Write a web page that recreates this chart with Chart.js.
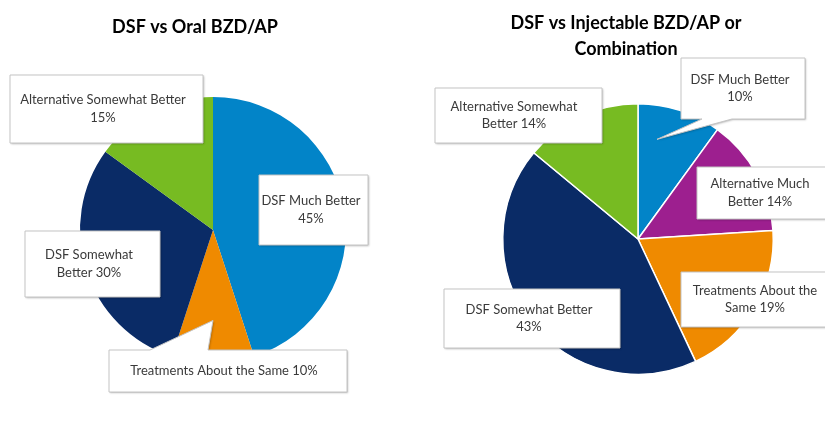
<!DOCTYPE html>
<html>
<head>
<meta charset="utf-8">
<script src="https://cdn.jsdelivr.net/npm/chart.js@4/dist/chart.umd.min.js"></script>
<style>
  html, body { margin: 0; padding: 0; background: #ffffff; }
  #wrap { position: relative; width: 825px; height: 435px; overflow: hidden; background: #fff; }
  canvas { position: absolute; top: 0; }
</style>
</head>
<body>
<div id="wrap">
  <canvas id="oral" width="412" height="435" style="left:0"></canvas>
  <canvas id="inj" width="413" height="435" style="left:412px"></canvas>
</div>
<script>
// ---- data ----
const oralTitle = ['DSF vs Oral BZD/AP'];
const oralCategories = ['DSF Much Better', 'Treatments About the Same', 'DSF Somewhat Better', 'Alternative Somewhat Better'];
const oralValues = [45, 10, 30, 15];

const injTitle = ['DSF vs Injectable BZD/AP or', 'Combination'];
const injCategories = ['DSF Much Better', 'Alternative Much Better', 'Treatments About the Same', 'DSF Somewhat Better', 'Alternative Somewhat Better'];
const injValues = [10, 14, 19, 43, 14];

// ---- styles ----
const categoryColors = {
  'DSF Much Better': '#0284C8',
  'Alternative Much Better': '#9D1F8F',
  'Treatments About the Same': '#EF8A00',
  'DSF Somewhat Better': '#0A2B66',
  'Alternative Somewhat Better': '#77BB22'
};
const TEXT_FONT = '13px Lato, "Open Sans", sans-serif';
const TITLE_FONT = 'bold 18px Lato, "Open Sans", sans-serif';

const calloutPlugin = {
  id: 'callouts',
  afterDraw(chart, args, opts) {
    const ctx = chart.ctx;
    const meta = chart.getDatasetMeta(0);
    const labels = chart.data.labels;
    const values = chart.data.datasets[0].data;
    ctx.save();
    // titles
    ctx.fillStyle = '#000';
    ctx.font = TITLE_FONT;
    ctx.textAlign = 'center';
    ctx.textBaseline = 'middle';
    opts.title.forEach((t, i) => ctx.fillText(t, opts.titleX, opts.titleY + i * opts.titleLH));

    opts.boxes.forEach(b => {
      const x0 = b.x, y0 = b.y, x1 = b.x + b.w, y1 = b.y + b.h;
      ctx.beginPath();
      if (b.pointer) {
        const arc = meta.data[b.index];
        const p = arc.getProps(['x', 'y', 'startAngle', 'endAngle', 'outerRadius'], true);
        const a = p.startAngle + (p.endAngle - p.startAngle) * b.pointer.frac;
        const tx = p.x + Math.cos(a) * p.outerRadius * b.pointer.r;
        const ty = p.y + Math.sin(a) * p.outerRadius * b.pointer.r;
        if (b.pointer.side === 'top') {
          ctx.moveTo(x0, y0);
          ctx.lineTo(b.pointer.b0, y0);
          ctx.lineTo(tx, ty);
          ctx.lineTo(b.pointer.b1, y0);
          ctx.lineTo(x1, y0);
          ctx.lineTo(x1, y1);
          ctx.lineTo(x0, y1);
          ctx.closePath();
        } else {
          ctx.moveTo(x0, y0);
          ctx.lineTo(x1, y0);
          ctx.lineTo(x1, y1);
          ctx.lineTo(b.pointer.b1, y1);
          ctx.lineTo(tx, ty);
          ctx.lineTo(b.pointer.b0, y1);
          ctx.lineTo(x0, y1);
          ctx.closePath();
        }
      } else {
        ctx.rect(x0, y0, b.w, b.h);
      }
      ctx.save();
      ctx.shadowColor = 'rgba(0,0,0,0.28)';
      ctx.shadowBlur = 2;
      ctx.shadowOffsetX = 1;
      ctx.shadowOffsetY = 1;
      ctx.fillStyle = '#ffffff';
      ctx.fill();
      ctx.restore();
      ctx.lineWidth = 1;
      ctx.strokeStyle = '#c4c4c4';
      ctx.stroke();

      const words = (labels[b.index] + ' ' + values[b.index] + '%').split(' ');
      const lines = b.split ? [words.slice(0, b.split).join(' '), words.slice(b.split).join(' ')] : [words.join(' ')];
      ctx.fillStyle = '#3a3a3a';
      ctx.font = TEXT_FONT;
      ctx.textAlign = 'center';
      ctx.textBaseline = 'middle';
      const cx = b.tx !== undefined ? b.tx : (x0 + x1) / 2;
      const cy = (y0 + y1) / 2;
      const lh = 17.5;
      lines.forEach((l, i) => ctx.fillText(l, cx, cy + (i - (lines.length - 1) / 2) * lh));
    });
    ctx.restore();
  }
};

function makePie(id, cats, vals, padding, borderWidth, cfg) {
  return new Chart(document.getElementById(id), {
    type: 'pie',
    data: {
      labels: cats,
      datasets: [{
        data: vals,
        backgroundColor: cats.map(c => categoryColors[c]),
        borderColor: '#ffffff',
        borderWidth: borderWidth
      }]
    },
    options: {
      responsive: false,
      animation: false,
      layout: { padding: padding },
      plugins: {
        legend: { display: false },
        tooltip: { enabled: false },
        title: { display: false },
        callouts: cfg
      }
    },
    plugins: [calloutPlugin]
  });
}

makePie('oral', oralCategories, oralValues,
  { left: 80, top: 97, right: 66, bottom: 72 }, 0,
  {
    title: oralTitle, titleX: 195, titleY: 27, titleLH: 26,
    boxes: [
      { index: 3, split: 3, x: 10, y: 75, w: 193, h: 68, tx: 103 },
      { index: 0, split: 3, x: 259, y: 175, w: 109, h: 70, tx: 311 },
      { index: 2, split: 2, x: 25, y: 231, w: 135, h: 66, tx: 89 },
      { index: 1, split: 0, x: 109, y: 350, w: 238, h: 42, tx: 224,
        pointer: { side: 'top', b0: 150, b1: 208, frac: 0.5, r: 0.68 } }
    ]
  });

makePie('inj', injCategories, injValues,
  { left: 90, top: 103, right: 51, bottom: 60 }, 1.5,
  {
    title: injTitle, titleX: 214, titleY: 23, titleLH: 26,
    boxes: [
      { index: 4, split: 2, x: 23, y: 88, w: 167, h: 55, tx: 102 },
      { index: 0, split: 3, x: 269, y: 58, w: 124, h: 61, tx: 328,
        pointer: { side: 'bottom', b0: 290, b1: 320, frac: 0.3, r: 0.75 } },
      { index: 1, split: 2, x: 285, y: 167, w: 140, h: 52, tx: 348 },
      { index: 2, split: 3, x: 269, y: 272, w: 156, h: 55, tx: 343 },
      { index: 3, split: 3, x: 32, y: 289, w: 176, h: 59, tx: 117 }
    ]
  });
</script>
</body>
</html>
